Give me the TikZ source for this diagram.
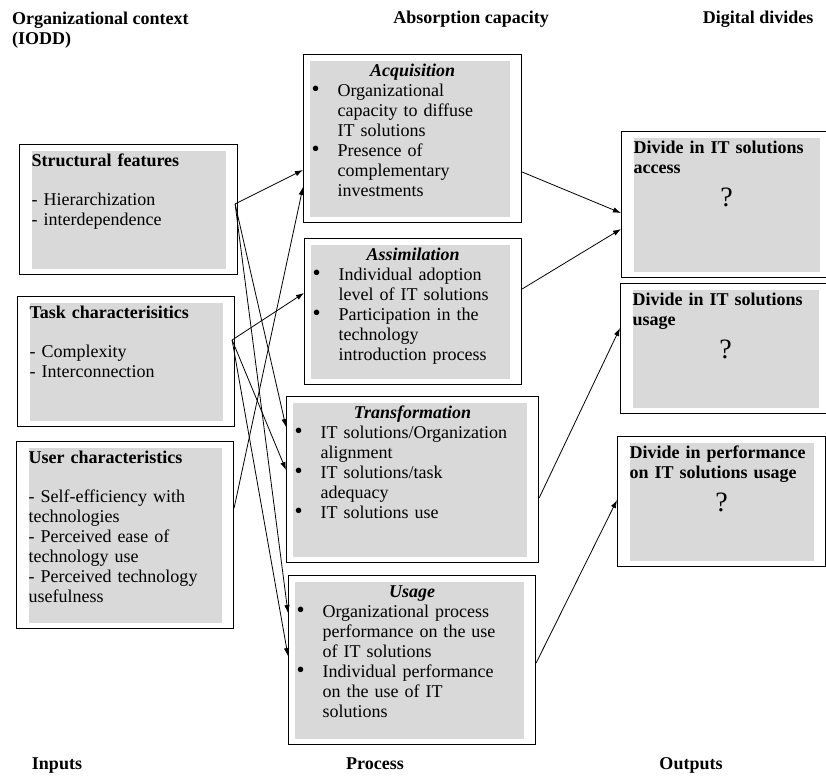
\documentclass[tikz,border=0pt]{standalone}
\usepackage{fontspec}
\setmainfont{Liberation Serif}
\usetikzlibrary{arrows.meta}

\definecolor{panelgray}{RGB}{217,217,217}
\newlength\bulletgap
\setlength\bulletgap{26pt}
\newcommand\bulletitem{\par\noindent\hangindent=\bulletgap\hangafter=1\makebox[\bulletgap][l]{\fontsize{23}{20}\selectfont\textbullet}}
\newcommand\qmark{\par\vspace{5pt}{\centering\fontsize{28}{28}\selectfont ?\par}}

\begin{document}
\begin{tikzpicture}[x=1pt,y=-1pt,
  panel/.style 2 args={draw, line width=1.1pt, anchor=north west, align=left,
    inner xsep=#1, inner ysep=7pt, text height=14.5pt,
    font=\fontsize{18}{20}\selectfont,
    path picture={\fill[panelgray]
      ([shift={(#2,-6pt)}]path picture bounding box.north west) rectangle
      ([shift={(-12pt,6pt)}]path picture bounding box.south east);}},
  head/.style={font=\fontsize{18}{20}\selectfont\bfseries, align=left, inner sep=0pt},
  link/.style={line width=0.8pt, -{Latex[length=8pt,width=5.5pt]}}]
\useasboundingbox (0,0) rectangle (826,776);
\clip (0,0) rectangle (826,776);

% column headings
\node[head, anchor=base west] (ctx) at (12,45) {Organizational context\\(IODD)};
\node[head, anchor=base] (absorb) at (471,24) {Absorption capacity};
\node[head, anchor=base] (digital) at (758,24) {Digital divides};
\node[head, anchor=base] (inputs) at (57,769) {Inputs};
\node[head, anchor=base] (process) at (375,769) {Process};
\node[head, anchor=base] (outputs) at (691,769) {Outputs};

% inputs
\node[panel={12pt}{12pt}, text width=194pt, text depth=101.5pt] (struct) at (19,144)
  {\textbf{Structural features}\\[19pt]- Hierarchization\\- interdependence};
\node[panel={12pt}{12pt}, text width=193pt, text depth=101.5pt] (task) at (17,296)
  {\textbf{Task characterisitics}\\[19pt]- Complexity\\- Interconnection};
\node[panel={12pt}{12pt}, text width=193pt, text depth=158.5pt] (user) at (16,441)
  {\textbf{User characteristics}\\[19pt]- Self-efficiency with\\technologies\\- Perceived ease of\\technology use\\- Perceived technology\\usefulness};

% process
\node[panel={8pt}{6pt}, text width=202pt, text depth=139.5pt] (acq) at (303,54)
  {{\centering\textbf{\textit{Acquisition}}\par}
   \bulletitem Organizational\newline capacity to diffuse\newline IT solutions
   \bulletitem Presence of\newline complementary\newline investments\par};
\node[panel={8pt}{6pt}, text width=201pt, text depth=117.5pt] (assim) at (304,238)
  {{\centering\textbf{\textit{Assimilation}}\par}
   \bulletitem Individual adoption\newline level of IT solutions
   \bulletitem Participation in the\newline technology\newline introduction process\par};
\node[panel={8pt}{6pt}, text width=236pt, text depth=137.5pt] (trans) at (286,396)
  {{\centering\textbf{\textit{Transformation}}\par}
   \bulletitem IT solutions/Organization\newline alignment
   \bulletitem IT solutions/task\newline adequacy
   \bulletitem IT solutions use\par};
\node[panel={8pt}{6pt}, text width=231pt, text depth=140.5pt] (usage) at (288,575)
  {{\centering\textbf{\textit{Usage}}\par}
   \bulletitem Organizational process\newline performance on the use\newline of IT solutions
   \bulletitem Individual performance\newline on the use of IT\newline solutions\par};

% outputs
\node[panel={12pt}{12pt}, text width=186pt, text depth=117.5pt] (divA) at (621,131)
  {\textbf{Divide in IT solutions}\\\textbf{access}\qmark};
\node[panel={12pt}{12pt}, text width=186pt, text depth=101.5pt] (divU) at (620,283)
  {\textbf{Divide in IT solutions}\\\textbf{usage}\qmark};
\node[panel={12pt}{12pt}, text width=184pt, text depth=101.5pt] (divP) at (617,436)
  {\textbf{Divide in performance}\\\textbf{on IT solutions usage}\qmark};

% inputs -> process
\draw[link] ([shift={(-3pt,-60pt)}]struct.north east) -- ([yshift=-116pt]acq.north west);
\draw[link] ([yshift=-67pt]user.north east) -- ([yshift=-133pt]acq.north west);
\draw[link] ([shift={(-3pt,-44pt)}]task.north east) -- ([yshift=-55pt]assim.north west);
\draw[link] ([shift={(-3pt,-60pt)}]struct.north east) -- ([yshift=-31pt]trans.north west);
\draw[link] ([shift={(-3pt,-44pt)}]task.north east) -- ([yshift=-74pt]trans.north west);
\draw[link] ([shift={(-3pt,-60pt)}]struct.north east) -- ([yshift=-38pt]usage.north west);
\draw[link] ([shift={(-3pt,-44pt)}]task.north east) -- ([yshift=-81pt]usage.north west);

% process -> outputs
\draw[link] ([yshift=-118pt]acq.north east) -- ([yshift=-82pt]divA.north west);
\draw[link] ([yshift=-51pt]assim.north east) -- ([yshift=-98pt]divA.north west);
\draw[link] ([yshift=-102pt]trans.north east) -- ([yshift=-45pt]divU.north west);
\draw[link] ([yshift=-88pt]usage.north east) -- ([yshift=-64pt]divP.north west);
\end{tikzpicture}
\end{document}
